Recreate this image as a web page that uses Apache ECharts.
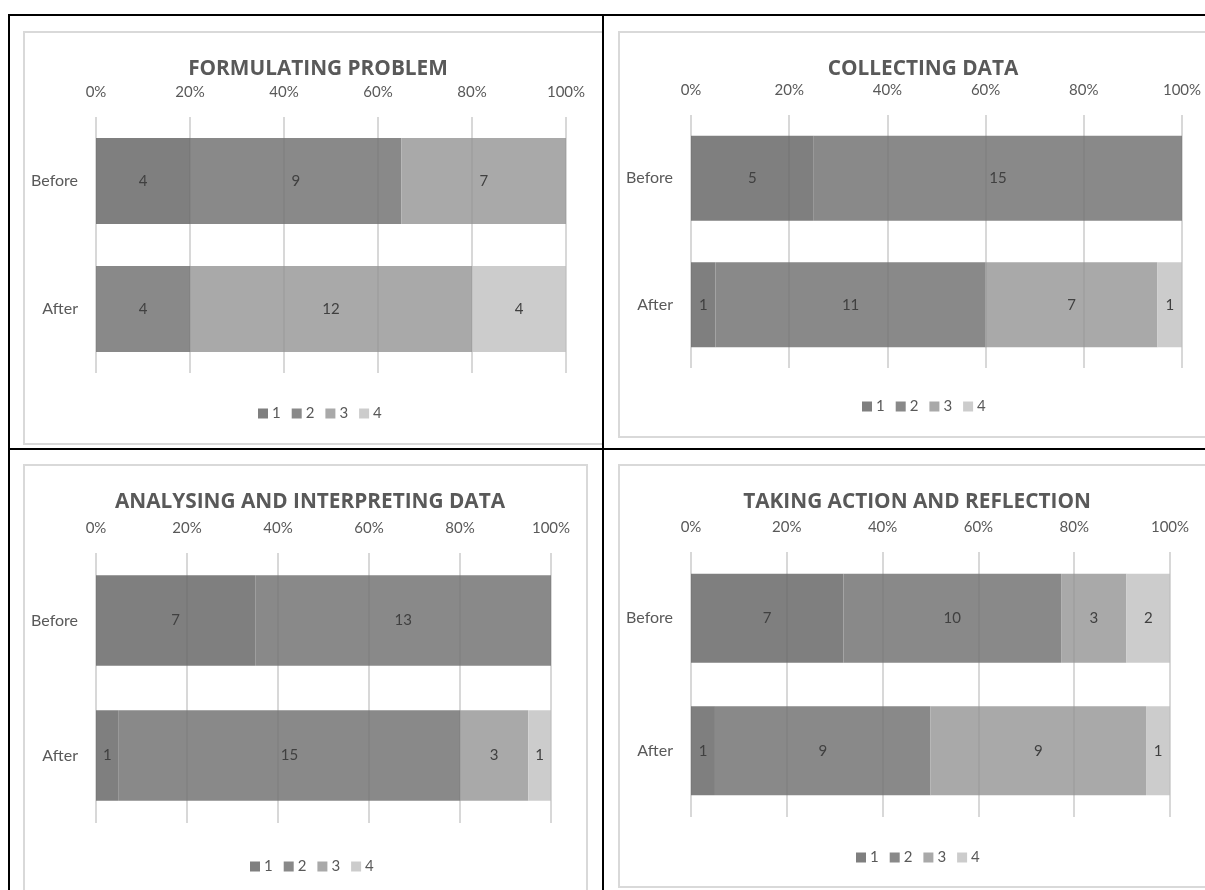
<!DOCTYPE html>
<html>
<head>
<meta charset="utf-8">
<style>
  html, body { margin: 0; padding: 0; background: #ffffff; }
  #chart { width: 1205px; height: 890px; }
</style>
<script src="https://cdn.jsdelivr.net/npm/echarts@6/dist/echarts.min.js"></script>
</head>
<body>
<div id="chart"></div>
<script>
// Rating levels and the two survey moments
const levels = ['1', '2', '3', '4'];
const categories = ['Before', 'After'];
const percentTicks = [0, 20, 40, 60, 80, 100];

// Number of students at each level (1..4), per skill
const formulatingBefore = [4, 9, 7, 0];
const formulatingAfter = [0, 4, 12, 4];
const collectingBefore = [5, 15, 0, 0];
const collectingAfter = [1, 11, 7, 1];
const analysingBefore = [7, 13, 0, 0];
const analysingAfter = [1, 15, 3, 1];
const actionBefore = [7, 10, 3, 2];
const actionAfter = [1, 9, 9, 1];

const panelTitles = [
  'FORMULATING PROBLEM',
  'COLLECTING DATA',
  'ANALYSING AND INTERPRETING DATA',
  'TAKING ACTION AND REFLECTION'
];

const levelColors = ['#7f7f7f', '#898989', '#a9a9a9', '#cccccc'];

// Panel geometry: plot area, title centre, legend position
const panels = [
  { rows: [formulatingBefore, formulatingAfter], grid: { left: 96, top: 117, width: 470, height: 256 }, titleX: 313, titleY: 54, legendX: 253, legendY: 401 },
  { rows: [collectingBefore, collectingAfter], grid: { left: 691, top: 115, width: 491, height: 253 }, titleX: 918, titleY: 54, legendX: 857, legendY: 394 },
  { rows: [analysingBefore, analysingAfter], grid: { left: 96, top: 553, width: 455, height: 270 }, titleX: 305, titleY: 487, legendX: 245, legendY: 854 },
  { rows: [actionBefore, actionAfter], grid: { left: 691, top: 552, width: 479, height: 265 }, titleX: 912, titleY: 487, legendX: 851, legendY: 845 }
];

const textGray = '#595959';
const sansFont = 'Lato, "Open Sans", sans-serif';

const option = {
  animation: false,
  backgroundColor: '#ffffff',
  title: [],
  legend: [],
  grid: [],
  xAxis: [],
  yAxis: [],
  series: [],
  graphic: []
};

panels.forEach((p, idx) => {
  option.title.push({
    text: panelTitles[idx],
    left: p.titleX,
    top: p.titleY,
    textAlign: 'center',
    textStyle: { fontFamily: '"Open Sans", sans-serif', fontWeight: 'bold', fontSize: 20.8, color: textGray }
  });

  option.grid.push(Object.assign({ containLabel: false }, p.grid));

  const valueRange = {
    gridIndex: idx,
    type: 'value',
    position: 'top',
    min: percentTicks[0],
    max: percentTicks[percentTicks.length - 1],
    interval: percentTicks[1] - percentTicks[0],
    axisLine: { show: false },
    axisTick: { show: false }
  };

  // Percentage axis with its gridlines behind the bars
  option.xAxis.push(Object.assign({}, valueRange, {
    axisLabel: { formatter: '{value}%', margin: 17, fontFamily: sansFont, fontSize: 15, color: textGray },
    splitLine: { show: true, lineStyle: { color: '#d9d9d9', width: 1.5 } }
  }));
  // Faint copy of the gridlines drawn over the bars
  option.xAxis.push(Object.assign({}, valueRange, {
    z: 3,
    axisLabel: { show: false },
    splitLine: { show: true, lineStyle: { color: 'rgba(0,0,0,0.06)', width: 1.5 } }
  }));

  option.yAxis.push({
    gridIndex: idx,
    type: 'category',
    inverse: true,
    data: categories,
    axisLine: { show: false },
    axisTick: { show: false },
    axisLabel: { margin: 18, fontFamily: sansFont, fontSize: 16, color: textGray }
  });

  const totals = p.rows.map(r => r.reduce((a, b) => a + b, 0));

  levels.forEach((lv, li) => {
    option.series.push({
      type: 'bar',
      name: lv,
      xAxisIndex: idx * 2,
      yAxisIndex: idx,
      stack: 'panel' + idx,
      barCategoryGap: '33%',
      itemStyle: { color: levelColors[li] },
      label: {
        show: true,
        position: 'inside',
        fontFamily: sansFont,
        fontSize: 15,
        color: '#404040',
        formatter: prm => (prm.data.count ? String(prm.data.count) : '')
      },
      data: p.rows.map((r, ri) => ({ value: r[li] / totals[ri] * 100, count: r[li] }))
    });
  });

  option.legend.push({
    data: levels,
    left: p.legendX,
    top: p.legendY,
    icon: 'rect',
    itemWidth: 10,
    itemHeight: 10,
    itemGap: 11,
    selectedMode: false,
    textStyle: { fontFamily: sansFont, fontSize: 15, color: textGray, padding: [0, 0, 0, -1] }
  });
});

// Light chart-area frames
const frameStyle = { fill: 'none', stroke: '#d9d9d9', lineWidth: 2 };
[
  { x: 24, y: 32, width: 579, height: 412 },
  { x: 619, y: 32, width: 600, height: 405 },
  { x: 24, y: 465, width: 563, height: 440 },
  { x: 619, y: 465, width: 600, height: 422 }
].forEach(s => option.graphic.push({ type: 'rect', shape: s, style: frameStyle, silent: true, z: 1 }));

// Black table rules
[
  { x: 8, y: 14, width: 1197, height: 2 },
  { x: 8, y: 14, width: 2, height: 876 },
  { x: 602, y: 14, width: 2, height: 876 },
  { x: 8, y: 448, width: 1197, height: 2 }
].forEach(s => option.graphic.push({ type: 'rect', shape: s, style: { fill: '#000000' }, silent: true, z: 10 }));

const chart = echarts.init(document.getElementById('chart'), null, { renderer: 'canvas' });
chart.setOption(option);
</script>
</body>
</html>
